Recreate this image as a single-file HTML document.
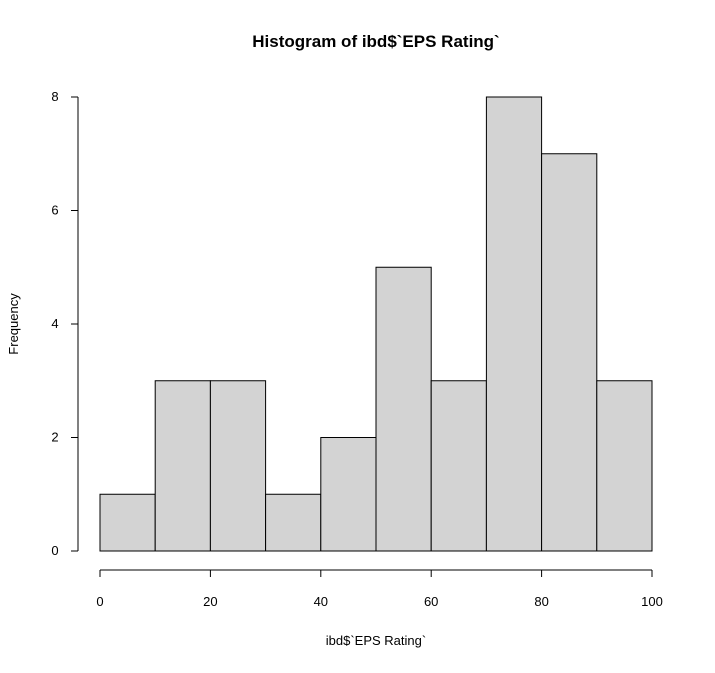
<!DOCTYPE html>
<html><head><meta charset="utf-8"><style>
body{margin:0;background:#fff;}
svg text{font-family:"Liberation Sans",Arial,sans-serif;fill:#000;}
</style></head><body>
<svg id="chart" width="715" height="668" xmlns="http://www.w3.org/2000/svg">
<rect width="715" height="668" fill="#fff"/>
<text x="376" y="47" text-anchor="middle" font-size="17" font-weight="bold">Histogram of ibd$`EPS Rating`</text>
<text x="376" y="645" text-anchor="middle" font-size="13">ibd$`EPS Rating`</text>
<text transform="translate(18,324) rotate(-90)" text-anchor="middle" font-size="13">Frequency</text>
<g id="bars"></g><g id="xaxis"></g><g id="yaxis"></g>
</svg>
<script>
const breaks = [0,10,20,30,40,50,60,70,80,90,100];
const counts = [1,3,3,1,2,5,3,8,7,3];
const xTicks = [0,20,40,60,80,100];
const yTicks = [0,2,4,6,8];
const NS="http://www.w3.org/2000/svg";
const xs = v => 100 + v*5.52;
const ys = v => 551 - v*56.75;
function mk(t,a,p){const e=document.createElementNS(NS,t);for(const k in a)e.setAttribute(k,a[k]);p.appendChild(e);return e;}
const bars=document.getElementById('bars');
counts.forEach((c,i)=>{
  const r=mk('rect',{x:xs(breaks[i]),y:ys(c),width:xs(breaks[i+1])-xs(breaks[i]),height:ys(0)-ys(c),fill:'#d3d3d3',stroke:'#000','stroke-width':1},bars);
  
  
});
const xa=document.getElementById('xaxis');
const xl=mk('line',{x1:xs(xTicks[0]),x2:xs(xTicks[xTicks.length-1]),y1:570,y2:570,stroke:'#000'},xa);


xTicks.forEach(t=>{
  mk('line',{x1:xs(t),x2:xs(t),y1:570,y2:577,stroke:'#000'},xa);
  const tx=mk('text',{x:xs(t),y:606,'text-anchor':'middle','font-size':13},xa);
  tx.textContent=t;
  
  
});
const ya=document.getElementById('yaxis');
const yl=mk('line',{x1:78,x2:78,y1:ys(yTicks[0]),y2:ys(yTicks[yTicks.length-1]),stroke:'#000'},ya);


yTicks.forEach(t=>{
  mk('line',{x1:71,x2:78,y1:ys(t),y2:ys(t),stroke:'#000'},ya);
  const tx=mk('text',{x:55,y:ys(t)+4,'text-anchor':'middle','font-size':13},ya);
  tx.textContent=t;
  
  
});
</script>
</body></html>
